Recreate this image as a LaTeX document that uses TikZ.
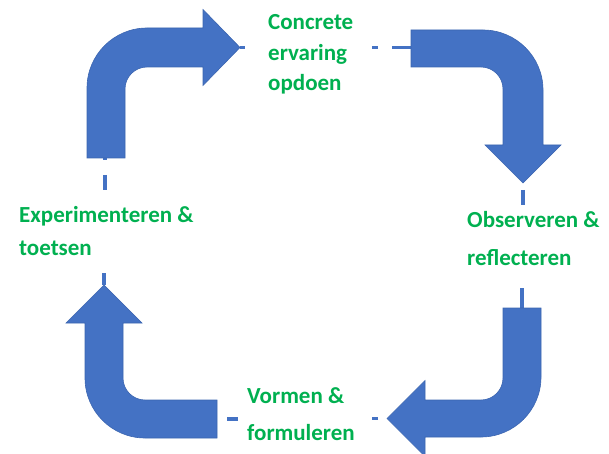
\documentclass[tikz,border=0pt]{standalone}
\usepackage{fontspec}
\setmainfont{Carlito}
\definecolor{arrowblue}{HTML}{4472C4}
\definecolor{arrowedge}{HTML}{3B65B0}
\definecolor{labelgreen}{HTML}{00B050}
\begin{document}
\begin{tikzpicture}[x=1pt,y=-1pt,
  bigarrow/.style={fill=arrowblue,draw=arrowedge,line width=0.6pt,line join=miter},
  lbl/.style={anchor=base west,inner sep=0pt,text=labelgreen,font=\fontsize{23}{27}\selectfont\bfseries},
  conn/.style={draw=arrowblue,line width=3.5pt}]
\useasboundingbox (0,0) rectangle (609,454);

% text lines
\node[lbl] (c1) at (268,30) {Concrete};
\node[lbl] (c2) at (268,61) {ervaring};
\node[lbl] (c3) at (268,91) {opdoen};
\node[lbl] (o1) at (467,227) {Observeren \&};
\node[lbl] (o2) at (467,265) {reflecteren};
\node[lbl] (v1) at (247,403) {Vormen \&};
\node[lbl] (v2) at (247,440) {formuleren};
\node[lbl] (e1) at (19,222) {Experimenteren \&};
\node[lbl] (e2) at (19,255) {toetsen};

% connector end points
\coordinate (a1tail) at (105,158);
\coordinate (a1tip) at (240,47.5);
\coordinate (a2tail) at (411,47.5);
\coordinate (a2tip) at (523,183);
\coordinate (a3tail) at (522,308);
\coordinate (a3tip) at (387,418.5);
\coordinate (a4tail) at (217,419);
\coordinate (a4tip) at (104,285);
\coordinate (ctxtl) at (265,47.5);
\coordinate (ctxtr) at (360,47.5);
\coordinate (otxtt) at (523,210);
\coordinate (otxtb) at (522,275);
\coordinate (vtxtr) at (365,418.5);
\coordinate (vtxtl) at (247,419);
\coordinate (etxtb) at (104,262);
\coordinate (etxtt) at (105,200);

% connectors
\draw[conn,dash pattern=on 2pt off 15pt on 15pt off 100pt] (a1tail) -- (etxtt);
\draw[conn,dash pattern=on 5pt off 100pt] (a1tip) -- (ctxtl);
\draw[conn,dash pattern=on 19pt off 14pt on 6pt off 100pt] (a2tail) -- (ctxtr);
\draw[conn,dash pattern=on 0pt off 7pt on 15pt off 100pt] (a2tip) -- (otxtt);
\draw[conn,dash pattern=on 20pt off 100pt] (a3tail) -- (otxtb);
\draw[conn,dash pattern=on 0pt off 9pt on 6pt off 100pt] (a3tip) -- (vtxtr);
\draw[conn,dash pattern=on 0pt off 10pt on 11pt off 100pt] (a4tail) -- (vtxtl);
\draw[conn,dash pattern=on 12pt off 100pt] (a4tip) -- (etxtb);

% bent arrows
\path[bigarrow] (87,158) -- (87,88) .. controls (87,54.9) and (113.9,28) .. (147,28)
  -- (203,28) -- (203,9.5) -- (240,47.5) -- (203,85.5) -- (203,67) -- (147,67)
  .. controls (134.85,67) and (125,76.85) .. (125,89) -- (125,158) -- cycle;
\path[bigarrow] (411,30) -- (483,30) .. controls (516.1,30) and (543,56.9) .. (543,90)
  -- (543,145) -- (561,145) -- (523,183) -- (485,145) -- (503,145) -- (503,89)
  .. controls (503,76.85) and (493.15,67) .. (481,67) -- (411,67) -- cycle;
\path[bigarrow] (503,308) -- (541,308) -- (541,377) .. controls (541,410.1) and (514.1,437) .. (481,437)
  -- (425,437) -- (425,456.5) -- (387,418.5) -- (425,380.5) -- (425,400) -- (481,400)
  .. controls (493.15,400) and (503,390.15) .. (503,378) -- cycle;
\path[bigarrow] (217,400) -- (217,438) -- (145,438) .. controls (111.9,438) and (85,411.1) .. (85,378)
  -- (85,323) -- (66,323) -- (104,285) -- (142,323) -- (123,323) -- (123,378)
  .. controls (123,390.15) and (132.85,400) .. (145,400) -- cycle;
\end{tikzpicture}
\end{document}
